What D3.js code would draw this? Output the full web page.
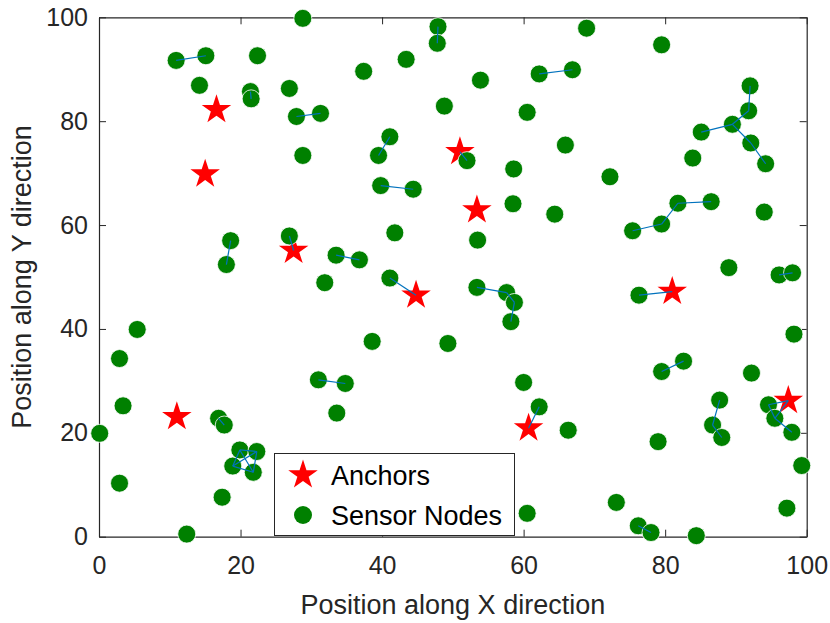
<!DOCTYPE html>
<html>
<head>
<meta charset="utf-8">
<script src="https://cdn.jsdelivr.net/npm/d3@7"></script>
<style>
  body { margin: 0; background: #fff; }
  text { font-family: "Liberation Sans", Arial, sans-serif; fill: #262626; }
</style>
</head>
<body>
<script>
// sensor node positions (N1..N100)
var sensorX = [28.8, 47.9, 47.8, 10.9, 15.1, 22.4, 37.4, 43.4, 14.2, 21.4,
               21.5, 26.9, 48.8, 27.9, 31.3, 28.8, 41.1, 39.5, 39.8, 44.4,
               18.6, 18.0, 26.9, 41.8, 33.5, 36.8, 31.9, 41.1, 68.9, 79.5,
               53.9, 62.2, 66.9, 92.0, 91.8, 89.5, 85.1, 92.1, 94.2, 83.9,
               60.5, 65.9, 52.0, 58.6, 72.2, 58.5, 64.4, 75.4, 79.5, 81.8,
               86.5, 94.0, 53.5, 89.0, 96.1, 98.0, 5.4, 2.9, 38.6, 3.4,
               31.0, 34.8, 33.6, 0.1, 16.9, 17.7, 19.9, 22.3, 18.9, 21.8,
               2.9, 17.4, 12.4, 53.4, 57.6, 58.7, 58.2, 49.3, 60.0, 62.2,
               66.3, 60.5, 73.1, 76.2, 78.0, 84.4, 76.3, 82.6, 79.5, 92.2,
               98.2, 87.7, 86.7, 88.0, 79.0, 94.6, 95.5, 97.9, 99.3, 97.2];
var sensorY = [99.8, 98.2, 95.0, 91.7, 92.6, 92.6, 89.6, 91.9, 86.9, 85.7,
               84.3, 86.3, 82.9, 80.9, 81.5, 73.4, 77.0, 73.4, 67.6, 66.9,
               57.0, 52.4, 57.9, 58.5, 54.2, 53.3, 48.9, 49.8, 97.9, 94.7,
               87.9, 89.1, 89.9, 86.8, 82.0, 79.4, 77.9, 75.8, 71.8, 72.9,
               81.7, 75.4, 72.4, 70.8, 69.3, 64.1, 62.1, 58.9, 60.2, 64.2,
               64.5, 62.5, 57.1, 51.8, 50.4, 50.8, 39.9, 34.3, 37.6, 25.2,
               30.2, 29.5, 23.8, 19.9, 22.8, 21.5, 16.7, 16.4, 13.6, 12.4,
               10.3, 7.6, 0.5, 48.0, 47.0, 45.1, 41.4, 37.2, 29.7, 25.0,
               20.5, 4.5, 6.6, 2.1, 0.8, 0.2, 46.5, 33.8, 31.8, 31.5,
               39.0, 26.3, 21.5, 19.1, 18.3, 25.4, 22.8, 20.1, 13.7, 5.5];

// anchor positions (A1..A10)
var anchorX = [16.6, 15.0, 27.5, 44.8, 11.0, 51.0, 53.4, 60.7, 81.0, 97.4];
var anchorY = [82.2, 69.8, 55.1, 46.5, 23.1, 74.1, 62.9, 20.9, 47.2, 26.2];

// neighbour links
var links = [["N4","N5"], ["N2","N3"], ["N10","N11"], ["N14","N15"], ["N17","N18"],
             ["N19","N20"], ["N21","N22"], ["N23","A3"], ["N25","N26"], ["N32","N33"],
             ["A6","N43"], ["N34","N35"], ["N35","N36"], ["N36","N37"], ["N36","N38"],
             ["N38","N39"], ["N48","N49"], ["N49","N50"], ["N50","N51"], ["N55","N56"],
             ["N28","A4"], ["N61","N62"], ["N65","N66"],
             ["N67","N68"], ["N67","N69"], ["N67","N70"], ["N68","N69"], ["N68","N70"], ["N69","N70"],
             ["N74","N75"], ["N75","N76"], ["N76","N77"], ["N80","A8"], ["N84","N85"],
             ["N87","A9"], ["N88","N89"], ["N92","N93"], ["N93","N94"],
             ["N96","A10"], ["A10","N97"], ["N96","N97"], ["N97","N98"]];

var xTicks = [0, 20, 40, 60, 80, 100];
var yTicks = [0, 20, 40, 60, 80, 100];

var width = 830, height = 623;
var plotL = 99, plotR = 806.7, plotT = 17.3, plotB = 536.7;

var svg = d3.select("body").append("svg")
    .attr("width", width)
    .attr("height", height);

var x = d3.scaleLinear().domain([0, 100]).range([plotL, plotR]);
var y = d3.scaleLinear().domain([0, 100]).range([plotB, plotT]);

function pos(id) {
  var i = +id.slice(1) - 1;
  if (id[0] == "A") return [x(anchorX[i]), y(anchorY[i])];
  return [x(sensorX[i]), y(sensorY[i])];
}

// axes (box on, ticks inward)
var axisCol = "#262626";
var xAxis = svg.append("g")
    .attr("transform", "translate(0," + plotB + ")")
    .call(d3.axisBottom(x).tickValues(xTicks).tickSizeInner(-7).tickSizeOuter(0).tickPadding(20));
var yAxis = svg.append("g")
    .attr("transform", "translate(" + plotL + ",0)")
    .call(d3.axisLeft(y).tickValues(yTicks).tickSizeInner(-7).tickSizeOuter(0).tickPadding(11));
var xTop = svg.append("g")
    .attr("transform", "translate(0," + plotT + ")")
    .call(d3.axisTop(x).tickValues(xTicks).tickSizeInner(-7).tickSizeOuter(0).tickFormat(""));
var yRight = svg.append("g")
    .attr("transform", "translate(" + plotR + ",0)")
    .call(d3.axisRight(y).tickValues(yTicks).tickSizeInner(-7).tickSizeOuter(0).tickFormat(""));

[xAxis, yAxis, xTop, yRight].forEach(function(g) {
  g.select(".domain").attr("stroke", axisCol).attr("stroke-width", 1.2);
  g.selectAll(".tick line").attr("stroke", axisCol).attr("stroke-width", 1);
  g.selectAll(".tick text").attr("fill", axisCol)
    .style("font-family", '"Liberation Sans", Arial, sans-serif')
    .style("font-size", "25px");
});

// axis labels
svg.append("text")
    .attr("x", (plotL + plotR) / 2)
    .attr("y", 614)
    .attr("text-anchor", "middle")
    .style("font-size", "27px")
    .text("Position along X direction");
svg.append("text")
    .attr("transform", "translate(31," + ((plotT + plotB) / 2) + ") rotate(-90)")
    .attr("text-anchor", "middle")
    .style("font-size", "27px")
    .text("Position along Y direction");

var star = d3.symbol().type(d3.symbolStar).size(270);

// anchors
svg.selectAll(".anchor")
    .data(anchorX)
    .enter().append("path")
    .attr("class", "anchor")
    .attr("d", star)
    .attr("transform", function(d, i) { return "translate(" + x(d) + "," + y(anchorY[i]) + ")"; })
    .attr("fill", "#ff0000");

// sensor nodes
svg.selectAll(".node")
    .data(sensorX)
    .enter().append("circle")
    .attr("class", "node")
    .attr("cx", function(d) { return x(d); })
    .attr("cy", function(d, i) { return y(sensorY[i]); })
    .attr("r", 9)
    .attr("fill", "#008000")
    .attr("stroke", "#ffffff")
    .attr("stroke-width", 0.8);

// links on top
svg.selectAll(".link")
    .data(links)
    .enter().append("line")
    .attr("class", "link")
    .attr("x1", function(d) { return pos(d[0])[0]; })
    .attr("y1", function(d) { return pos(d[0])[1]; })
    .attr("x2", function(d) { return pos(d[1])[0]; })
    .attr("y2", function(d) { return pos(d[1])[1]; })
    .attr("stroke", "#0072bd")
    .attr("stroke-width", 1.2);

// legend
var lg = svg.append("g");
lg.append("rect")
    .attr("x", 274.5).attr("y", 453.5)
    .attr("width", 240).attr("height", 82)
    .attr("fill", "#fff")
    .attr("stroke", axisCol)
    .attr("stroke-width", 1);
lg.append("path")
    .attr("d", star)
    .attr("transform", "translate(303,475)")
    .attr("fill", "#ff0000");
lg.append("circle")
    .attr("cx", 303).attr("cy", 515).attr("r", 9)
    .attr("fill", "#008000");
lg.append("text")
    .attr("x", 331).attr("y", 485)
    .style("font-size", "27px")
    .style("fill", "#000")
    .text("Anchors");
lg.append("text")
    .attr("x", 331).attr("y", 525)
    .style("font-size", "27px")
    .style("fill", "#000")
    .text("Sensor Nodes");
</script>
</body>
</html>
